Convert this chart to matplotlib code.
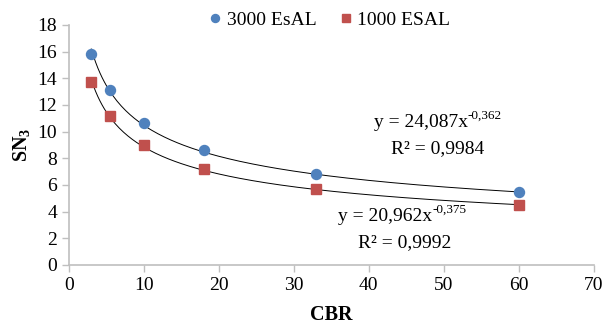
import numpy as np
import matplotlib
matplotlib.use("Agg")
import matplotlib.pyplot as plt

plt.rcParams["font.family"] = "Liberation Serif"
plt.rcParams["mathtext.fontset"] = "custom"
plt.rcParams["mathtext.rm"] = "Liberation Serif"
plt.rcParams["mathtext.it"] = "Liberation Serif:italic"
plt.rcParams["mathtext.bf"] = "Liberation Serif:bold"

# data
cbr = [3, 5.5, 10, 18, 33, 60]
sn3_3000 = [15.8, 13.1, 10.65, 8.6, 6.8, 5.45]
sn3_1000 = [13.7, 11.2, 9.0, 7.2, 5.7, 4.5]

# power trendlines as printed on the chart
fit_3000 = (24.087, -0.362)
fit_1000 = (20.962, -0.375)
eq_3000 = ("y = 24,087x", "-0,362", "R² = 0,9984")
eq_1000 = ("y = 20,962x", "-0,375", "R² = 0,9992")

blue = "#4f81bd"
red = "#c0504d"
grey = "#bfbfbf"

fig = plt.figure(figsize=(6.04, 3.27), dpi=100)
ax = fig.add_axes([0.114, 0.19, 0.869, 0.734])

xs = np.linspace(min(cbr), max(cbr), 200)
ax.plot(xs, fit_3000[0] * xs ** fit_3000[1], color="black", lw=0.7, zorder=2)
ax.plot(xs, fit_1000[0] * xs ** fit_1000[1], color="black", lw=0.7, zorder=2)

ax.plot(cbr, sn3_3000, "o", color=blue, ms=7.2, mec=blue, label="3000 EsAL", zorder=3)
ax.plot(cbr, sn3_1000, "s", color=red, ms=7.5, mec=red, label="1000 ESAL", zorder=3)

ax.set_xlim(0, 70)
ax.set_ylim(0, 18)
ax.set_xticks(range(0, 71, 10))
ax.set_yticks(range(0, 19, 2))
ax.tick_params(labelsize=14, color=grey, length=5, width=1)
for s in ["top", "right"]:
    ax.spines[s].set_visible(False)
for s in ["left", "bottom"]:
    ax.spines[s].set_color(grey)
    ax.spines[s].set_linewidth(1.2)

ax.set_xlabel("CBR", fontsize=14.5, fontweight="bold", labelpad=8)
ax.set_ylabel(r"$\mathbf{SN_3}$", fontsize=14.5, labelpad=4)

# trendline equations
for (main, expo, r2), xr, yr, xc, y2 in [(eq_3000, 53.2, 10.65, 49.2, 8.75),
                                          (eq_1000, 48.5, 3.6, 44.8, 1.65)]:
    t = ax.text(xr, yr, main, fontsize=14, ha="right", va="center")
    ax.annotate(expo, xy=(1, 0.55), xycoords=t, fontsize=9.5, va="bottom", ha="left")
    ax.text(xc, y2, r2, fontsize=14, ha="center", va="center")

fig.legend(loc="upper center", bbox_to_anchor=(0.543, 1.02), ncol=2, frameon=False,
           fontsize=14, handletextpad=0.1, columnspacing=1.0, markerscale=0.8,
           handlelength=1.0)

fig.savefig("out.png", dpi=100)
